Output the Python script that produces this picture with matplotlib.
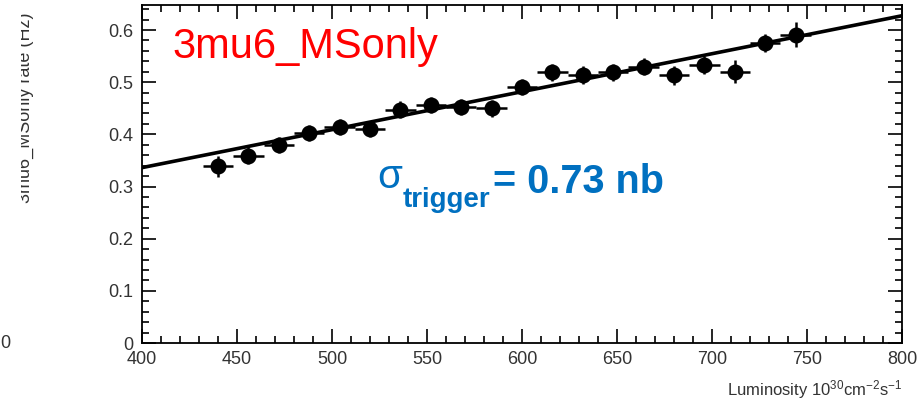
import matplotlib
matplotlib.use("Agg")
import matplotlib.pyplot as plt
from matplotlib.ticker import MultipleLocator, FuncFormatter
from matplotlib.transforms import Bbox

# luminosity bins (10^30 cm^-2 s^-1) and measured trigger rate (Hz)
lumi = [440, 456, 472, 488, 504, 520, 536, 552, 568, 584,
        600, 616, 632, 648, 664, 680, 696, 712, 728, 744]
rate = [0.339, 0.359, 0.379, 0.402, 0.414, 0.410, 0.447, 0.456, 0.453, 0.450,
        0.491, 0.519, 0.514, 0.519, 0.530, 0.513, 0.533, 0.520, 0.575, 0.591]
rate_err = [0.020, 0.016, 0.015, 0.015, 0.015, 0.015, 0.016, 0.015, 0.015, 0.016,
            0.016, 0.016, 0.017, 0.016, 0.016, 0.018, 0.018, 0.022, 0.018, 0.024]
lumi_err = [8] * len(lumi)

# linear fit: rate = slope * lumi + offset
fit_slope = 0.000728
fit_offset = 0.045
fit_range = [400, 800]

plt.rcParams['font.family'] = ['Liberation Sans', 'DejaVu Sans']
plt.rcParams['mathtext.default'] = 'regular'

W, H = 920, 407
fig = plt.figure(figsize=(W / 100, H / 100), dpi=100)
ax = fig.add_axes([142 / W, 1 - 343 / H, 760 / W, 338 / H])

ax.errorbar(lumi, rate, xerr=lumi_err, yerr=rate_err, fmt='o', color='black',
            markersize=10.5, elinewidth=1.8, capsize=0, zorder=3)
fit_y = [fit_slope * x + fit_offset for x in fit_range]
ax.plot(fit_range, fit_y, color='black', linewidth=2.6, zorder=2)

ax.set_xlim(400, 800)
ax.set_ylim(0, 0.648)
ax.xaxis.set_major_locator(MultipleLocator(50))
ax.xaxis.set_minor_locator(MultipleLocator(10))
ax.yaxis.set_major_locator(MultipleLocator(0.1))
ax.yaxis.set_minor_locator(MultipleLocator(0.02))
ax.yaxis.set_major_formatter(FuncFormatter(lambda v, p: '%g' % round(v, 2)))
ax.tick_params(which='both', direction='in', top=True, right=True,
               labelsize=13, labelcolor='#333333', width=1.2)
ax.tick_params(which='major', length=10, pad=6)
ax.tick_params(which='minor', length=5)
for s in ax.spines.values():
    s.set_linewidth(1.3)

# axis titles (ROOT style, right-aligned x title, clipped y title)
fig.text(902 / W, 1 - 395 / H, 'Luminosity 10$^{30}$cm$^{-2}$s$^{-1}$',
         ha='right', va='baseline', fontsize=12, color='#333333')
clip = Bbox.from_extents(21, 0, 60, H)
fig.text(25 / W, 1 - 108 / H, '3mu6_MSonly rate (Hz)', rotation=90,
         ha='center', va='center', fontsize=13, color='#333333',
         clip_box=clip, clip_on=True)
fig.text(5 / W, 1 - 343 / H, '0', ha='center', va='center',
         fontsize=13, color='#333333')

# annotations
fig.text(172 / W, 1 - 58 / H, '3mu6_MSonly', color='#ff0000',
         fontsize=30, va='baseline', ha='left')
blue = '#0070c0'
fig.text(377 / W, 1 - 188 / H, '\u03c3', color=blue, fontsize=29,
         va='baseline', ha='left')
fig.text(403 / W, 1 - 207 / H, 'trigger', color=blue, fontsize=20,
         fontweight='bold', va='baseline', ha='left')
fig.text(493 / W, 1 - 193 / H, '= 0.73 nb', color=blue, fontsize=28.5,
         fontweight='bold', va='baseline', ha='left')

plt.savefig('out.png', dpi=100)
